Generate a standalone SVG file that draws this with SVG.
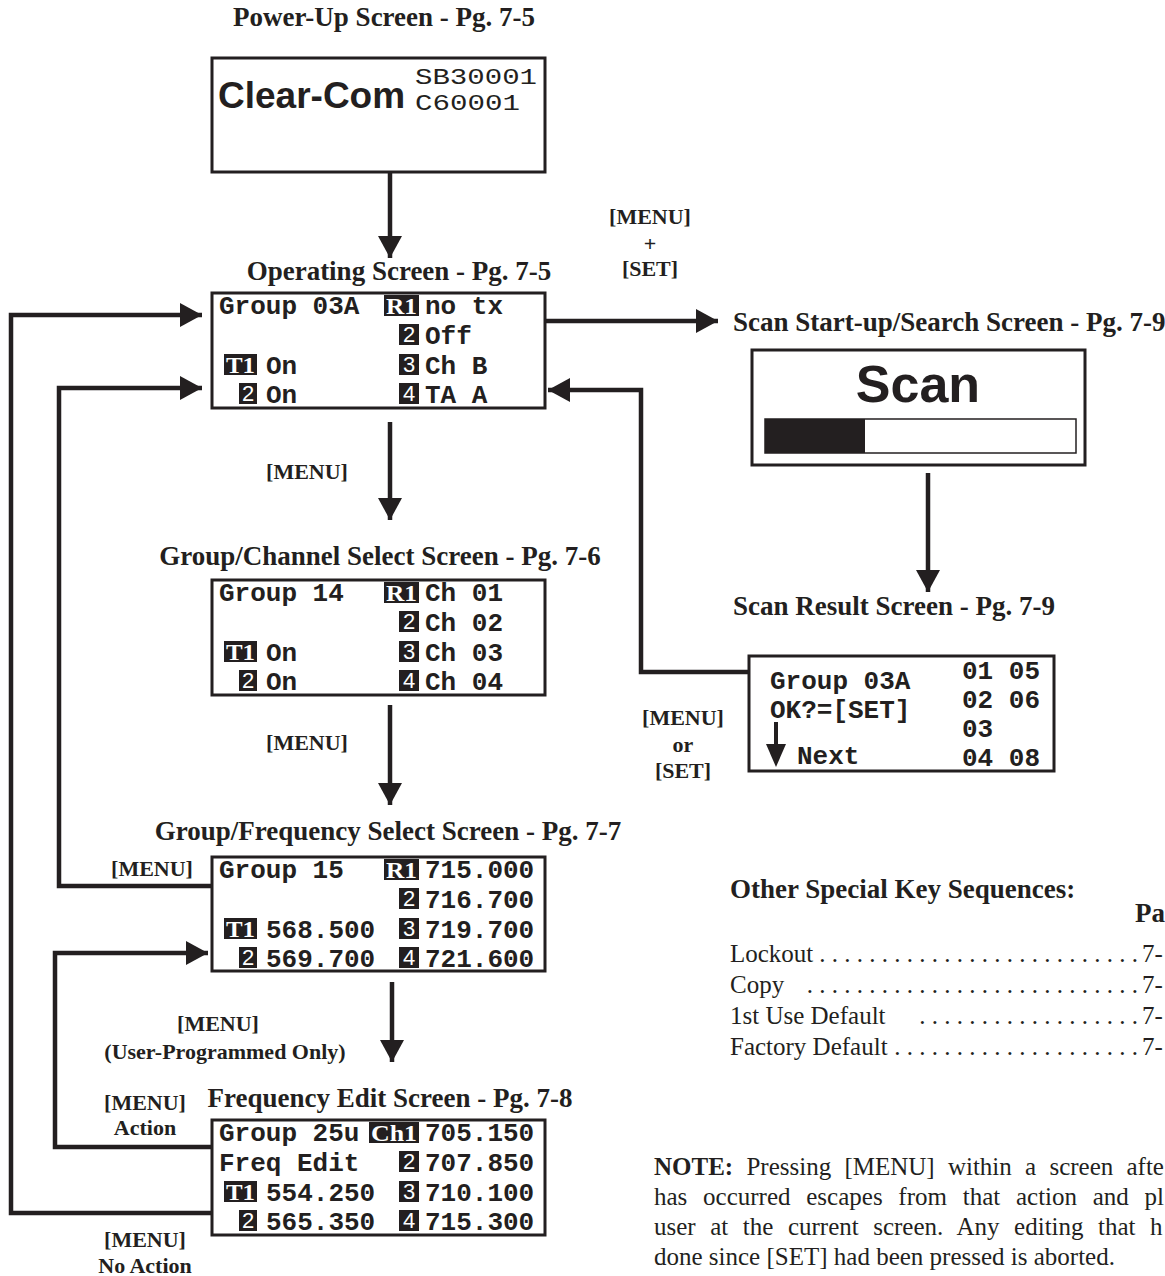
<svg xmlns="http://www.w3.org/2000/svg" width="1165" height="1276" viewBox="0 0 1165 1276">
<style>
.bg{fill:#ffffff}
.box{fill:#ffffff;stroke:#231f20;stroke-width:3}
.title{font-family:"Liberation Serif",serif;font-weight:bold;font-size:27px;fill:#231f20}
.lbl{font-family:"Liberation Serif",serif;font-weight:bold;font-size:22px;fill:#231f20;text-anchor:middle}
.lcd{font-family:"Liberation Mono",monospace;font-weight:bold;font-size:26px;fill:#231f20}
.inv{fill:#231f20}
.invt{font-family:"Liberation Serif",serif;font-weight:bold;font-size:23px;fill:#ffffff}
.invd{font-family:"Liberation Sans",sans-serif;font-size:22px;fill:#ffffff;text-anchor:middle}
.body{font-family:"Liberation Serif",serif;font-size:25px;fill:#231f20}
.conn{fill:none;stroke:#231f20;stroke-width:4.5}
</style>
<defs>
<marker id="ah" markerUnits="userSpaceOnUse" markerWidth="24" markerHeight="26" refX="22" refY="12" orient="auto">
<path d="M0,0 L22,12 L0,24 z" fill="#231f20"/>
</marker>
</defs>
<rect class="bg" x="0" y="0" width="1165" height="1276"/>

<g id="connectors">
<line class="conn" x1="390" y1="173" x2="390" y2="258" marker-end="url(#ah)"/>
<line class="conn" x1="390" y1="422" x2="390" y2="520" marker-end="url(#ah)"/>
<line class="conn" x1="390" y1="705" x2="390" y2="805" marker-end="url(#ah)"/>
<line class="conn" x1="392" y1="982" x2="392" y2="1062" marker-end="url(#ah)"/>
<line class="conn" x1="928" y1="473" x2="928" y2="592" marker-end="url(#ah)"/>
<line class="conn" x1="545" y1="321" x2="718" y2="321" marker-end="url(#ah)"/>
<polyline class="conn" points="749,672 641,672 641,390 548,390" marker-end="url(#ah)"/>
<polyline class="conn" points="212,1213 11,1213 11,315 202,315" marker-end="url(#ah)"/>
<polyline class="conn" points="212,886 59,886 59,388 202,388" marker-end="url(#ah)"/>
<polyline class="conn" points="212,1147 55,1147 55,953 208,953" marker-end="url(#ah)"/>
</g>

<g id="edge-labels">
<text class="lbl" x="650" y="224">[MENU]</text>
<text class="lbl" x="650" y="251">+</text>
<text class="lbl" x="650" y="276">[SET]</text>
<text class="lbl" x="307" y="479">[MENU]</text>
<text class="lbl" x="307" y="750">[MENU]</text>
<text class="lbl" x="683" y="725">[MENU]</text>
<text class="lbl" x="683" y="752">or</text>
<text class="lbl" x="683" y="778">[SET]</text>
<text class="lbl" x="152" y="876">[MENU]</text>
<text class="lbl" x="218" y="1031">[MENU]</text>
<text class="lbl" x="225" y="1059">(User-Programmed Only)</text>
<text class="lbl" x="145" y="1110">[MENU]</text>
<text class="lbl" x="145" y="1135">Action</text>
<text class="lbl" x="145" y="1247">[MENU]</text>
<text class="lbl" x="145" y="1273">No Action</text>
</g>

<g id="power-up">
<text class="title" x="384" y="26" text-anchor="middle">Power-Up Screen  - Pg. 7-5</text>
<rect class="box" x="212" y="58" width="333" height="114"/>
<text x="218" y="108" font-family="Liberation Sans, sans-serif" font-weight="bold" font-size="37" fill="#231f20">Clear-Com</text>
<text x="415" y="84" font-family="Liberation Mono, monospace" font-size="22" fill="#231f20" textLength="122" lengthAdjust="spacingAndGlyphs">SB30001</text>
<text x="415" y="110" font-family="Liberation Mono, monospace" font-size="22" fill="#231f20" textLength="105" lengthAdjust="spacingAndGlyphs">C60001</text>
</g>

<g id="operating">
<text class="title" x="399" y="280" text-anchor="middle">Operating Screen - Pg. 7-5</text>
<rect class="box" x="212" y="293" width="333" height="115"/>
<text class="lcd" x="219" y="314">Group 03A</text>
<rect class="inv" x="384" y="295" width="35" height="21"/><text class="invt" x="386" y="314" textLength="31" lengthAdjust="spacingAndGlyphs">R1</text>
<text class="lcd" x="425" y="314">no tx</text>
<rect class="inv" x="399" y="324" width="20" height="21"/><text class="invd" x="409" y="342">2</text>
<text class="lcd" x="425" y="344">Off</text>
<rect class="inv" x="224" y="354" width="33" height="21"/><text class="invt" x="226" y="373" textLength="29" lengthAdjust="spacingAndGlyphs">T1</text>
<text class="lcd" x="266" y="374">On</text>
<rect class="inv" x="399" y="354" width="20" height="21"/><text class="invd" x="409" y="372">3</text>
<text class="lcd" x="425" y="374">Ch B</text>
<rect class="inv" x="239" y="383" width="18" height="21"/><text class="invd" x="248" y="401">2</text>
<text class="lcd" x="266" y="403">On</text>
<rect class="inv" x="399" y="383" width="20" height="21"/><text class="invd" x="409" y="401">4</text>
<text class="lcd" x="425" y="403">TA A</text>
</g>

<g id="scan-startup">
<text class="title" x="733" y="331" font-size="26.8">Scan Start-up/Search Screen - Pg. 7-9</text>
<rect class="box" x="752" y="350" width="333" height="115"/>
<text x="918" y="402" text-anchor="middle" font-family="Liberation Sans, sans-serif" font-weight="bold" font-size="52" fill="#231f20">Scan</text>
<rect x="765" y="419" width="311" height="34" fill="#ffffff" stroke="#231f20" stroke-width="1.5"/>
<rect x="765" y="419" width="100" height="34" fill="#231f20"/>
</g>

<g id="scan-result">
<text class="title" x="733" y="615">Scan Result Screen - Pg.  7-9</text>
<rect class="box" x="749" y="656" width="305" height="115"/>
<text class="lcd" x="770" y="689">Group 03A</text>
<text class="lcd" x="770" y="718">OK?=[SET]</text>
<line x1="776" y1="722" x2="776" y2="748" stroke="#231f20" stroke-width="4"/>
<path d="M766,744 L786,744 L776,767 z" fill="#231f20"/>
<text class="lcd" x="797" y="764">Next</text>
<text class="lcd" x="962" y="679">01 05</text>
<text class="lcd" x="962" y="708">02 06</text>
<text class="lcd" x="962" y="737">03</text>
<text class="lcd" x="962" y="766">04 08</text>
</g>

<g id="group-channel">
<text class="title" x="380" y="565" text-anchor="middle">Group/Channel Select Screen - Pg. 7-6</text>
<rect class="box" x="212" y="580" width="333" height="115"/>
<text class="lcd" x="219" y="601">Group 14</text>
<rect class="inv" x="384" y="582" width="35" height="21"/><text class="invt" x="386" y="601" textLength="31" lengthAdjust="spacingAndGlyphs">R1</text>
<text class="lcd" x="425" y="601">Ch 01</text>
<rect class="inv" x="399" y="611" width="20" height="21"/><text class="invd" x="409" y="629">2</text>
<text class="lcd" x="425" y="631">Ch 02</text>
<rect class="inv" x="224" y="641" width="33" height="21"/><text class="invt" x="226" y="660" textLength="29" lengthAdjust="spacingAndGlyphs">T1</text>
<text class="lcd" x="266" y="661">On</text>
<rect class="inv" x="399" y="641" width="20" height="21"/><text class="invd" x="409" y="659">3</text>
<text class="lcd" x="425" y="661">Ch 03</text>
<rect class="inv" x="239" y="670" width="18" height="21"/><text class="invd" x="248" y="688">2</text>
<text class="lcd" x="266" y="690">On</text>
<rect class="inv" x="399" y="670" width="20" height="21"/><text class="invd" x="409" y="688">4</text>
<text class="lcd" x="425" y="690">Ch 04</text>
</g>

<g id="group-frequency">
<text class="title" x="388" y="840" text-anchor="middle">Group/Frequency Select Screen - Pg. 7-7</text>
<rect class="box" x="212" y="857" width="333" height="114"/>
<text class="lcd" x="219" y="878">Group 15</text>
<rect class="inv" x="384" y="859" width="35" height="21"/><text class="invt" x="386" y="878" textLength="31" lengthAdjust="spacingAndGlyphs">R1</text>
<text class="lcd" x="425" y="878">715.000</text>
<rect class="inv" x="399" y="888" width="20" height="21"/><text class="invd" x="409" y="906">2</text>
<text class="lcd" x="425" y="908">716.700</text>
<rect class="inv" x="224" y="918" width="33" height="21"/><text class="invt" x="226" y="937" textLength="29" lengthAdjust="spacingAndGlyphs">T1</text>
<text class="lcd" x="266" y="938">568.500</text>
<rect class="inv" x="399" y="918" width="20" height="21"/><text class="invd" x="409" y="936">3</text>
<text class="lcd" x="425" y="938">719.700</text>
<rect class="inv" x="239" y="947" width="18" height="21"/><text class="invd" x="248" y="965">2</text>
<text class="lcd" x="266" y="967">569.700</text>
<rect class="inv" x="399" y="947" width="20" height="21"/><text class="invd" x="409" y="965">4</text>
<text class="lcd" x="425" y="967">721.600</text>
</g>

<g id="frequency-edit">
<text class="title" x="390" y="1107" text-anchor="middle">Frequency Edit Screen - Pg. 7-8</text>
<rect class="box" x="212" y="1120" width="333" height="115"/>
<text class="lcd" x="219" y="1141">Group 25u</text>
<rect class="inv" x="369" y="1122" width="50" height="21"/><text class="invt" x="371" y="1141" textLength="46" lengthAdjust="spacingAndGlyphs">Ch1</text>
<text class="lcd" x="425" y="1141">705.150</text>
<text class="lcd" x="219" y="1171">Freq Edit</text>
<rect class="inv" x="399" y="1151" width="20" height="21"/><text class="invd" x="409" y="1169">2</text>
<text class="lcd" x="425" y="1171">707.850</text>
<rect class="inv" x="224" y="1181" width="33" height="21"/><text class="invt" x="226" y="1200" textLength="29" lengthAdjust="spacingAndGlyphs">T1</text>
<text class="lcd" x="266" y="1201">554.250</text>
<rect class="inv" x="399" y="1181" width="20" height="21"/><text class="invd" x="409" y="1199">3</text>
<text class="lcd" x="425" y="1201">710.100</text>
<rect class="inv" x="239" y="1210" width="18" height="21"/><text class="invd" x="248" y="1228">2</text>
<text class="lcd" x="266" y="1230">565.350</text>
<rect class="inv" x="399" y="1210" width="20" height="21"/><text class="invd" x="409" y="1228">4</text>
<text class="lcd" x="425" y="1230">715.300</text>
</g>

<g id="key-sequences">
<text class="title" x="730" y="898" font-size="26.5">Other Special Key Sequences:</text>
<text class="title" x="1135" y="922" font-size="26">Pa</text>
<text class="body" x="730" y="962">Lockout</text>
<text class="body" x="1138" y="962" text-anchor="end">. . . . . . . . . . . . . . . . . . . . . . . . . .</text>
<text class="body" x="1142" y="962">7-</text>
<text class="body" x="730" y="993">Copy</text>
<text class="body" x="1138" y="993" text-anchor="end">. . . . . . . . . . . . . . . . . . . . . . . . . . .</text>
<text class="body" x="1142" y="993">7-</text>
<text class="body" x="730" y="1024">1st Use Default</text>
<text class="body" x="1138" y="1024" text-anchor="end">. . . . . . . . . . . . . . . . . .</text>
<text class="body" x="1142" y="1024">7-</text>
<text class="body" x="730" y="1055">Factory Default</text>
<text class="body" x="1138" y="1055" text-anchor="end">. . . . . . . . . . . . . . . . . . . .</text>
<text class="body" x="1142" y="1055">7-</text>
</g>

<g id="note">
<text class="body" x="654" y="1175" word-spacing="7"><tspan font-weight="bold">NOTE:</tspan> Pressing [MENU] within a screen afte</text>
<text class="body" x="654" y="1205" word-spacing="9.5">has occurred escapes from that action and pl</text>
<text class="body" x="654" y="1235" word-spacing="8.3">user at the current screen. Any editing that h</text>
<text class="body" x="654" y="1265">done since [SET] had been pressed is aborted.</text>
</g>
</svg>
